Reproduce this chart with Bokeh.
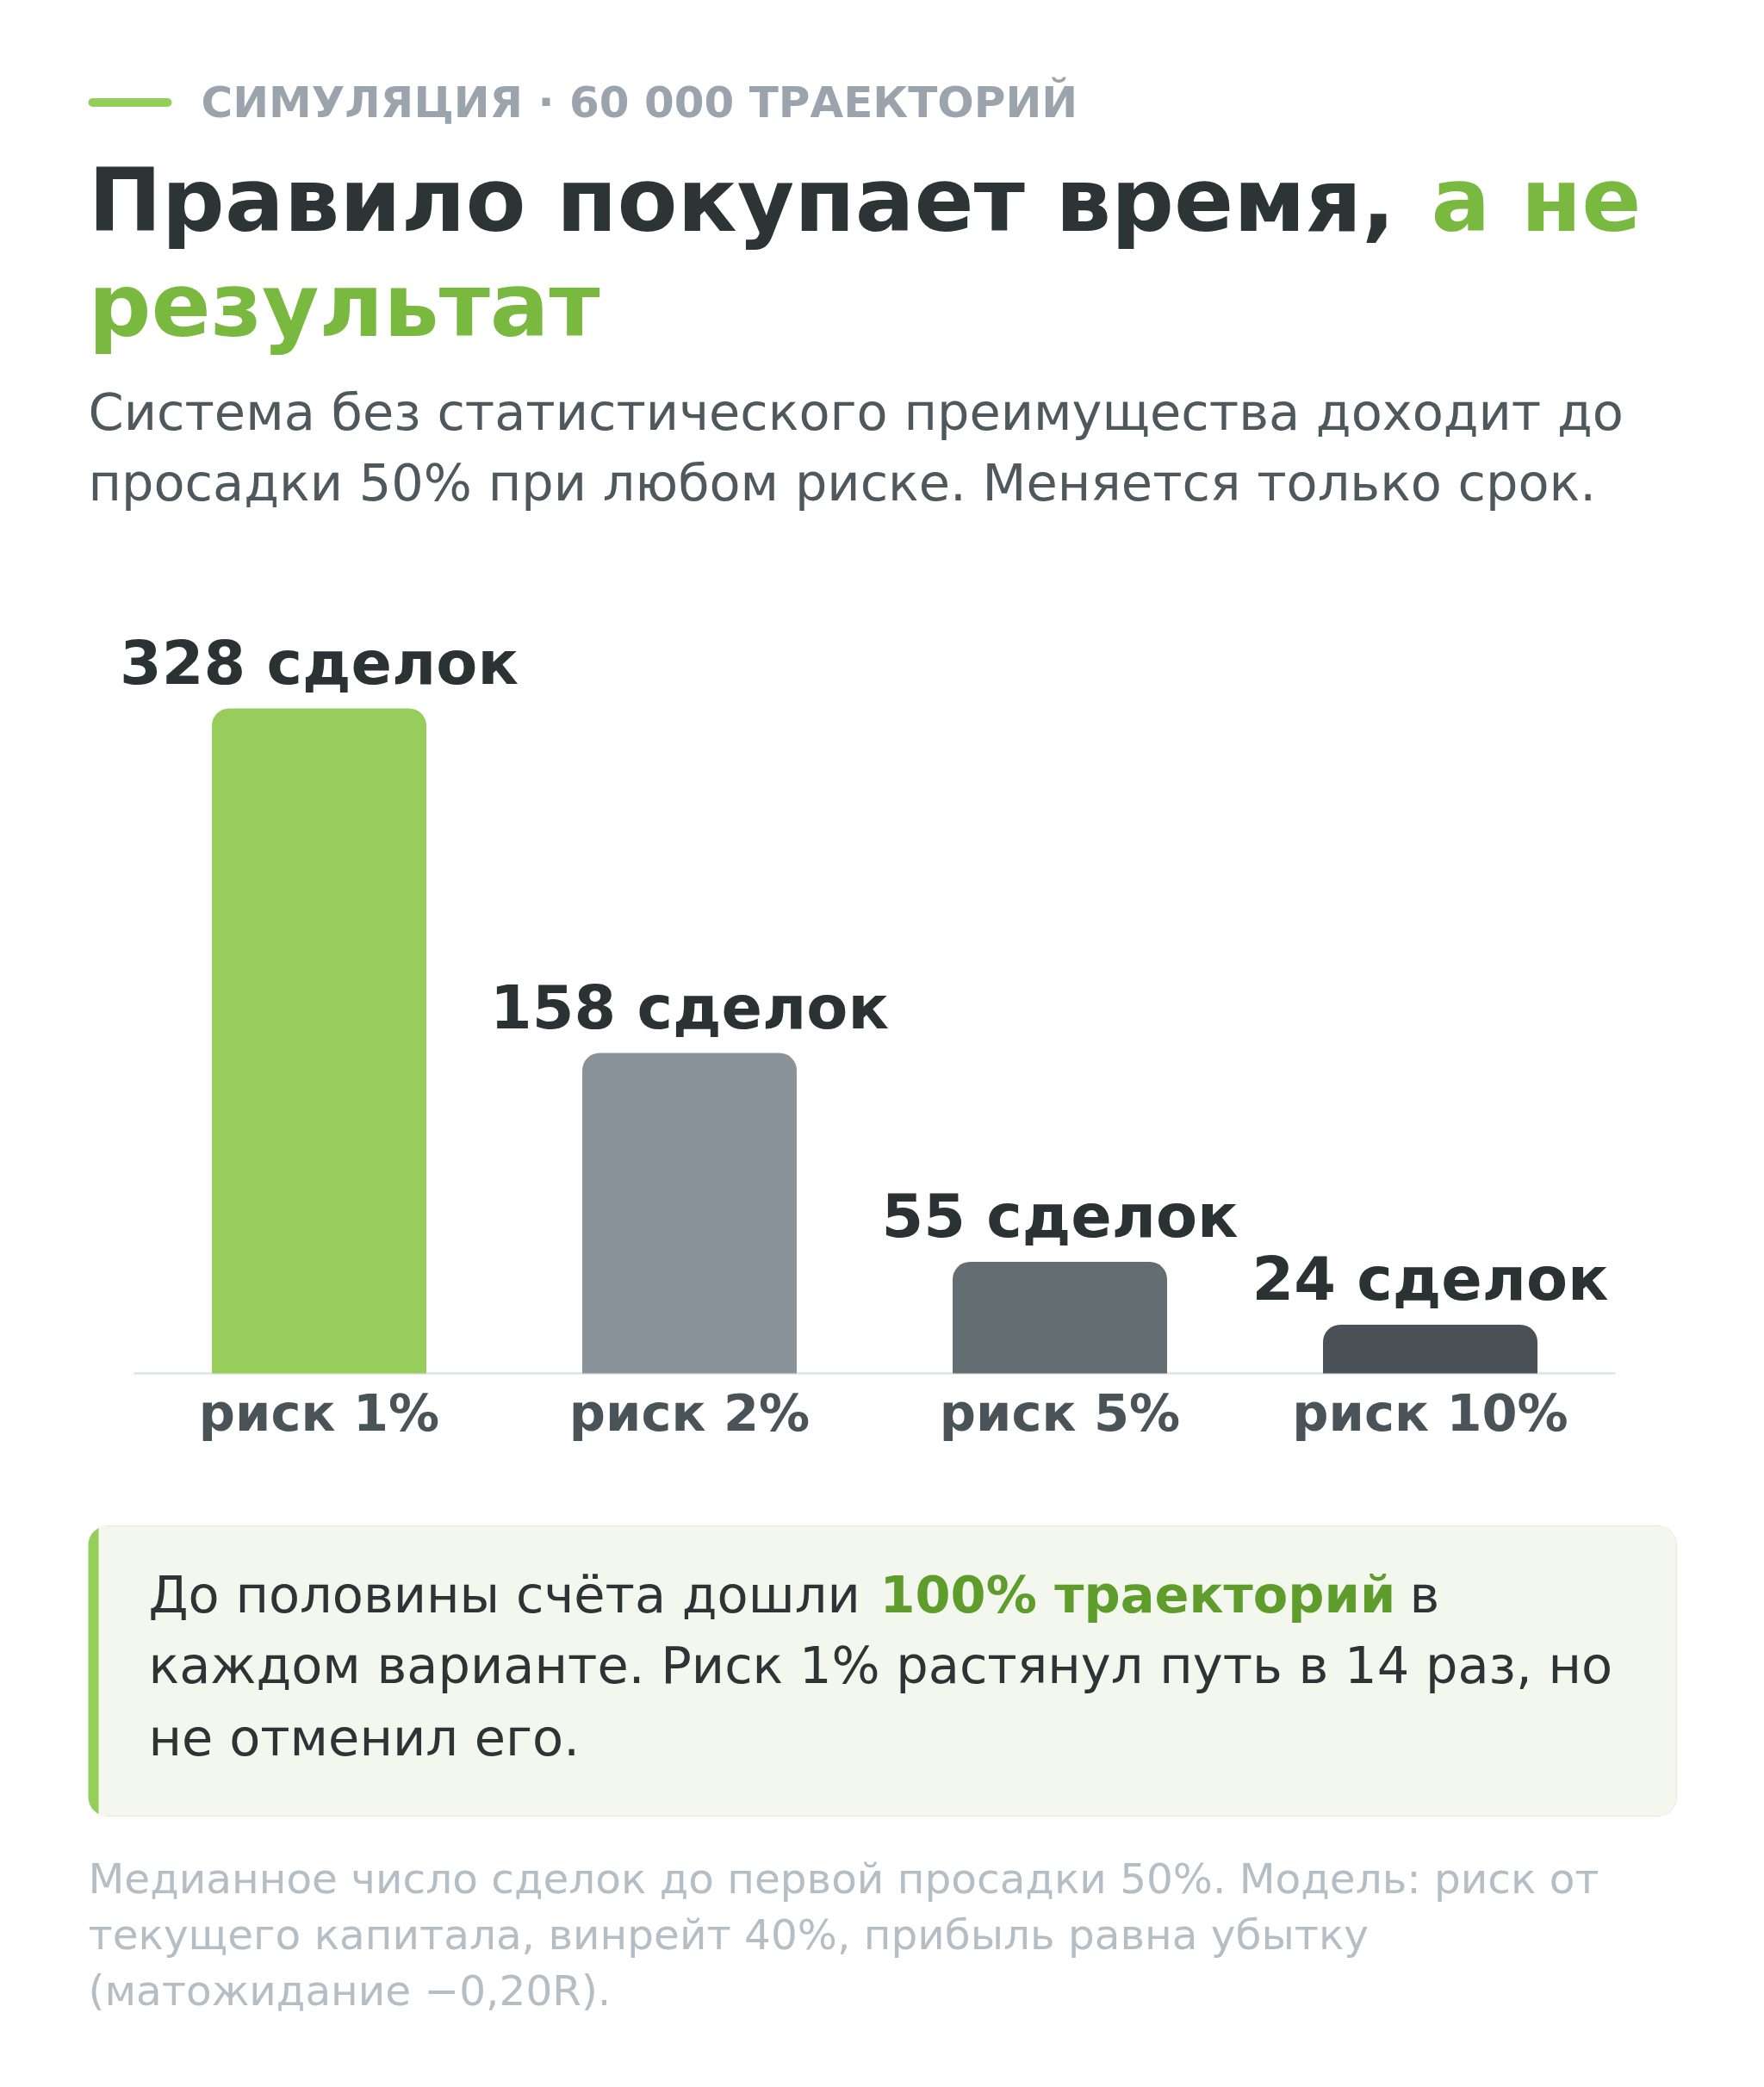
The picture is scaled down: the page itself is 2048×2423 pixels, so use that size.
from bokeh.core.properties import value
from bokeh.embed import file_html
from bokeh.models import ColumnDataSource, Range1d
from bokeh.plotting import figure
from bokeh.resources import INLINE

# data
categories = ["риск 1%", "риск 2%", "риск 5%", "риск 10%"]
trades = [328, 158, 55, 24]
trade_labels = [f"{v} сделок" for v in trades]
bar_colors = ["#97ce5b", "#8b939a", "#636d72", "#4a5157"]

eyebrow = "СИМУЛЯЦИЯ · 60 000 ТРАЕКТОРИЙ"
title_dark = "Правило покупает время,"
title_green = ["а не", "результат"]
subtitle = ["Система без статистического преимущества доходит до",
            "просадки 50% при любом риске. Меняется только срок."]
callout_1 = ["До половины счёта дошли", "100% траекторий", "в"]
callout_rest = ["каждом варианте. Риск 1% растянул путь в 14 раз, но",
                "не отменил его."]
footnote = ["Медианное число сделок до первой просадки 50%. Модель: риск от",
            "текущего капитала, винрейт 40%, прибыль равна убытку",
            "(матожидание \u22120,20R)."]

W, H = 2032, 2407
FONT = value("DejaVu Sans")
DARK = "#2d3436"
GREEN = "#7ab940"
SHIFT = 0.34  # the svg text sits this many ems below the asked baseline

# one canvas in pixels (y grows downwards); the bar chart uses its own
# slot / value ranges on top of it
p = figure(width=W, height=H, x_range=Range1d(0, W), y_range=Range1d(H, 0),
           output_backend="svg", toolbar_location=None,
           x_axis_location=None, y_axis_location=None, min_border=0)
p.xgrid.visible = False
p.ygrid.visible = False
p.outline_line_color = None
p.background_fill_color = "white"
p.border_fill_color = "white"
p.extra_x_ranges = {"slot": Range1d(-0.8605, 3.8651)}
p.extra_y_ranges = {"val": Range1d(-345.4, 677.2)}


def txt(x, y, s, size, color, bold=False):
    p.text(x=[x], y=[y - SHIFT * size], text=[s], text_font=FONT,
           text_font_size=f"{size}px",
           text_font_style="bold" if bold else "normal",
           text_color=color, text_align="left", text_baseline="alphabetic")


# header
p.segment(x0=[107], y0=[118.5], x1=[194], y1=[118.5], line_width=10,
          line_cap="round", line_color="#94cf5a")
txt(233, 135, eyebrow, 50, "#9ba4ac", bold=True)
txt(102, 267, title_dark, 102, DARK, bold=True)
txt(1661, 267, title_green[0], 102, GREEN, bold=True)
txt(102, 389, title_green[1], 102, GREEN, bold=True)
txt(102, 498, subtitle[0], 59, "#4f585c")
txt(102, 580, subtitle[1], 59, "#4f585c")

# bar chart
n = len(categories)
src = ColumnDataSource(dict(pos=list(range(n)), cat=categories, val=trades,
                            label=trade_labels, color=bar_colors,
                            zero=[0] * n))
p.segment(x0=[-0.5], x1=[n - 0.5], y0=[0], y1=[0], x_range_name="slot",
          y_range_name="val", line_color="#e3e7ea", line_width=3)
p.vbar(x="pos", top="val", bottom="zero", width=0.579, source=src,
       fill_color="color", line_color=None, border_radius=(20, 20, 0, 0),
       x_range_name="slot", y_range_name="val")
p.text(x="pos", y="val", text="label", source=src, y_offset=-29 - SHIFT * 70,
       x_range_name="slot", y_range_name="val",
       text_font=FONT, text_font_size="70px", text_font_style="bold",
       text_color="#2b3234", text_align="center", text_baseline="alphabetic")
p.text(x="pos", y="zero", text="cat", source=src, y_offset=66 - SHIFT * 59,
       x_range_name="slot", y_range_name="val",
       text_font=FONT, text_font_size="59px", text_font_style="bold",
       text_color="#4a5358", text_align="center", text_baseline="alphabetic")

# callout + footnote
p.quad(left=[102], right=[1946], top=[1771], bottom=[2108],
       fill_color="#94cf5a", line_color=None, border_radius=22)
p.quad(left=[114], right=[1946], top=[1771], bottom=[2108],
       fill_color="#f3f7ee", line_color=None, border_radius=(0, 22, 22, 0))
txt(172, 1871, callout_1[0], 59, DARK)
txt(1021, 1871, callout_1[1], 59, "#5e9c2c", bold=True)
txt(1636, 1871, callout_1[2], 59, DARK)
txt(172, 1953, callout_rest[0], 59, DARK)
txt(172, 2037, callout_rest[1], 59, DARK)
for i, line in enumerate(footnote):
    txt(102, 2197 + 65 * i, line, 48.5, "#b4bec4")

open("out.html", "w").write(file_html(p, INLINE))
